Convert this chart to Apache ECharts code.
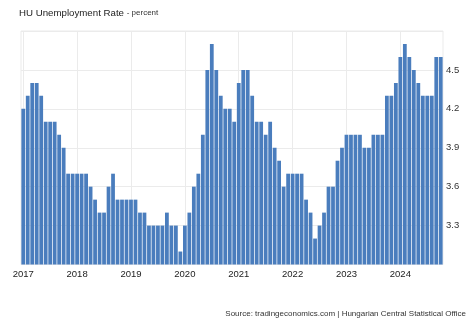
<!DOCTYPE html>
<html>
<head>
<meta charset="utf-8">
<title>HU Unemployment Rate</title>
<script src="https://cdn.jsdelivr.net/npm/echarts@6/dist/echarts.min.js"></script>
<style>
  html, body { margin: 0; padding: 0; background: #ffffff; }
  #chart { width: 474px; height: 324px; }
</style>
</head>
<body>
<div id="chart"></div>
<script>
// Monthly unemployment rate (percent), January 2017 – October 2024
const years = ['2017', '2018', '2019', '2020', '2021', '2022', '2023', '2024'];
const rate2017 = [4.2, 4.3, 4.4, 4.4, 4.3, 4.1, 4.1, 4.1, 4.0, 3.9, 3.7, 3.7];
const rate2018 = [3.7, 3.7, 3.7, 3.6, 3.5, 3.4, 3.4, 3.6, 3.7, 3.5, 3.5, 3.5];
const rate2019 = [3.5, 3.5, 3.4, 3.4, 3.3, 3.3, 3.3, 3.3, 3.4, 3.3, 3.3, 3.1];
const rate2020 = [3.3, 3.4, 3.6, 3.7, 4.0, 4.5, 4.7, 4.5, 4.3, 4.2, 4.2, 4.1];
const rate2021 = [4.4, 4.5, 4.5, 4.3, 4.1, 4.1, 4.0, 4.1, 3.9, 3.8, 3.6, 3.7];
const rate2022 = [3.7, 3.7, 3.7, 3.5, 3.4, 3.2, 3.3, 3.4, 3.6, 3.6, 3.8, 3.9];
const rate2023 = [4.0, 4.0, 4.0, 4.0, 3.9, 3.9, 4.0, 4.0, 4.0, 4.3, 4.3, 4.4];
const rate2024 = [4.6, 4.7, 4.6, 4.5, 4.4, 4.3, 4.3, 4.3, 4.6, 4.6];
const yTicks = [3.3, 3.6, 3.9, 4.2, 4.5];

const byYear = [rate2017, rate2018, rate2019, rate2020, rate2021, rate2022, rate2023, rate2024];
const months = [];
const values = [];
byYear.forEach((arr, yi) => {
  arr.forEach((v, mi) => {
    months.push(years[yi] + '-' + String(mi + 1).padStart(2, '0'));
    values.push(v);
  });
});

const isJanuary = (idx, val) => val.endsWith('-01');

const chart = echarts.init(document.getElementById('chart'), null, { renderer: 'canvas' });
chart.setOption({
  animation: false,
  backgroundColor: '#ffffff',
  textStyle: { fontFamily: 'Liberation Sans, Arial, sans-serif' },
  title: {
    text: 'HU Unemployment Rate {sub|- percent}',
    left: 14,
    top: 3,
    textStyle: {
      fontFamily: 'Liberation Sans, Arial, sans-serif',
      fontSize: 9.7,
      fontWeight: 'normal',
      color: '#222222',
      rich: {
        sub: { fontSize: 8, color: '#333333', fontFamily: 'Liberation Sans, Arial, sans-serif' }
      }
    }
  },
  grid: {
    left: 21,
    right: 31,
    top: 31,
    bottom: 59.5,
    show: true,
    borderColor: '#ebebeb',
    borderWidth: 1
  },
  xAxis: {
    type: 'category',
    data: months,
    boundaryGap: true,
    axisLine: { show: false },
    axisTick: { show: false, alignWithLabel: true },
    axisLabel: {
      interval: isJanuary,
      formatter: (val) => val.slice(0, 4),
      color: '#222222',
      fontSize: 9.5,
      margin: 5,
      fontFamily: 'Liberation Sans, Arial, sans-serif'
    },
    splitLine: {
      show: true,
      interval: isJanuary,
      alignWithLabel: true,
      lineStyle: { color: '#ebebeb', width: 1 }
    }
  },
  yAxis: {
    type: 'value',
    position: 'right',
    min: 3.0,
    max: 4.8,
    interval: 0.3,
    axisLine: { show: false },
    axisTick: { show: false },
    axisLabel: {
      color: '#333333',
      fontSize: 9.5,
      margin: 3,
      fontFamily: 'Liberation Sans, Arial, sans-serif',
      formatter: (v) => {
        const r = Math.round(v * 10) / 10;
        return yTicks.some(t => Math.abs(t - r) < 1e-6) ? r.toFixed(1) : '';
      }
    },
    splitLine: { lineStyle: { color: '#ebebeb', width: 1 } }
  },
  series: [{
    type: 'bar',
    data: values,
    barCategoryGap: '16%',
    itemStyle: { color: '#4a7dbd' }
  }],
  graphic: [{
    type: 'text',
    right: 8,
    top: 309.5,
    style: {
      text: 'Source: tradingeconomics.com | Hungarian Central Statistical Office',
      fontSize: 8,
      fill: '#333333',
      fontFamily: 'Liberation Sans, Arial, sans-serif'
    }
  }]
});
</script>
</body>
</html>
